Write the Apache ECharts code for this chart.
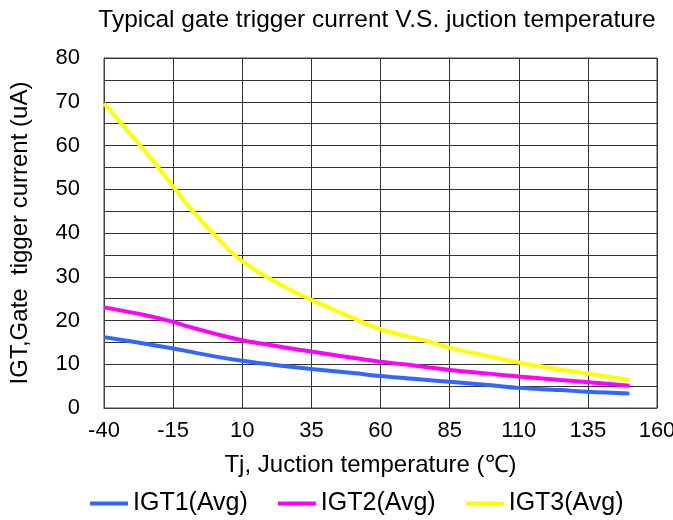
<!DOCTYPE html>
<html>
<head>
<meta charset="utf-8">
<script src="https://cdn.jsdelivr.net/npm/echarts@6/dist/echarts.min.js"></script>
<style>
html,body{margin:0;padding:0;background:#fff;}
#c{width:673px;height:520px;}
</style>
</head>
<body>
<div id="c"></div>
<script>
const temps = [-40, -25, -15, -10, 0, 10, 25, 35, 50, 60, 75, 85, 100, 110, 125, 135, 150];
const igt1 = [16.2, 14.7, 13.6, 13.0, 11.8, 10.8, 9.6, 8.9, 8.0, 7.3, 6.5, 6.0, 5.2, 4.6, 4.1, 3.7, 3.3];
const igt2 = [23.0, 21.2, 19.7, 18.7, 17.0, 15.5, 13.9, 12.9, 11.5, 10.6, 9.5, 8.7, 7.8, 7.2, 6.4, 5.9, 5.1];
const igt3 = [69.6, 58.5, 50.6, 46.5, 39.5, 33.5, 27.8, 24.7, 20.6, 18.0, 15.6, 13.8, 11.7, 10.4, 8.8, 7.9, 6.4];
const xTicks = [-40, -15, 10, 35, 60, 85, 110, 135, 160];
const seriesNames = ['IGT1(Avg)', 'IGT2(Avg)', 'IGT3(Avg)'];
const colors = ['#3366FF', '#FF00FF', '#FFFF00'];
const titleText = 'Typical gate trigger current V.S. juction temperature';
const xName = 'Tj, Juction temperature (\u2103)';
const yName = 'IGT,Gate  tigger current (uA)';

const FONT = '"Liberation Sans", Arial, sans-serif';
const X0 = xTicks[0];
const pair = (arr) => temps.map((t, i) => [t, arr[i]]);
const chart = echarts.init(document.getElementById('c'), null, {renderer: 'canvas'});
chart.setOption({
  animation: false,
  backgroundColor: '#fff',
  textStyle: {fontFamily: FONT, color: '#000'},
  title: {
    text: titleText, left: 372, textAlign: 'center', top: 3,
    textStyle: {fontFamily: FONT, fontSize: 24.5, fontWeight: 'normal', color: '#000'}
  },
  legend: {
    left: 85, top: 486, icon: 'rect', itemWidth: 38, itemHeight: 4, itemGap: 30,
    textStyle: {fontFamily: FONT, fontSize: 25, color: '#000'},
    data: seriesNames
  },
  grid: {left: 104, right: 16, top: 58, bottom: 112, show: true, borderColor: '#444', borderWidth: 1,
    outerBoundsMode: 'none', containLabel: false},
  xAxis: [{
    type: 'value', min: X0, max: xTicks[xTicks.length - 1],
    name: xName, nameLocation: 'middle', nameGap: 45,
    nameTextStyle: {fontFamily: FONT, fontSize: 24, color: '#000', padding: [0, 20, 0, 0]},
    axisLine: {show: true, onZero: false, lineStyle: {color: '#444'}},
    axisTick: {show: false},
    axisLabel: {show: false},
    splitLine: {show: false}
  }, {
    type: 'value', position: 'bottom', min: 0, max: xTicks[xTicks.length - 1] - X0, interval: xTicks[1] - xTicks[0],
    axisLine: {show: false, onZero: false},
    axisTick: {show: false},
    axisLabel: {fontFamily: FONT, fontSize: 22, color: '#000', margin: 12,
      formatter: (v) => String(v + X0)},
    splitLine: {show: true, lineStyle: {color: '#333', width: 1}}
  }],
  yAxis: {
    type: 'value', min: 0, max: 80, interval: 5,
    name: yName, nameLocation: 'middle', nameGap: 72,
    nameTextStyle: {fontFamily: FONT, fontSize: 24, color: '#000'},
    axisLine: {show: true, onZero: false, lineStyle: {color: '#444'}},
    axisTick: {show: false},
    axisLabel: {fontFamily: FONT, fontSize: 22, color: '#000', margin: 24,
      formatter: (v) => (v % 10 === 0 ? String(v) : '')},
    splitLine: {show: true, lineStyle: {color: '#333', width: 1}}
  },
  series: seriesNames.map((n, i) => ({
    name: n, type: 'line', smooth: 0.4, showSymbol: false, symbol: 'none',
    xAxisIndex: 0,
    data: pair([igt1, igt2, igt3][i]),
    lineStyle: {color: colors[i], width: 4},
    itemStyle: {color: colors[i]}
  }))
});
</script>
</body>
</html>
